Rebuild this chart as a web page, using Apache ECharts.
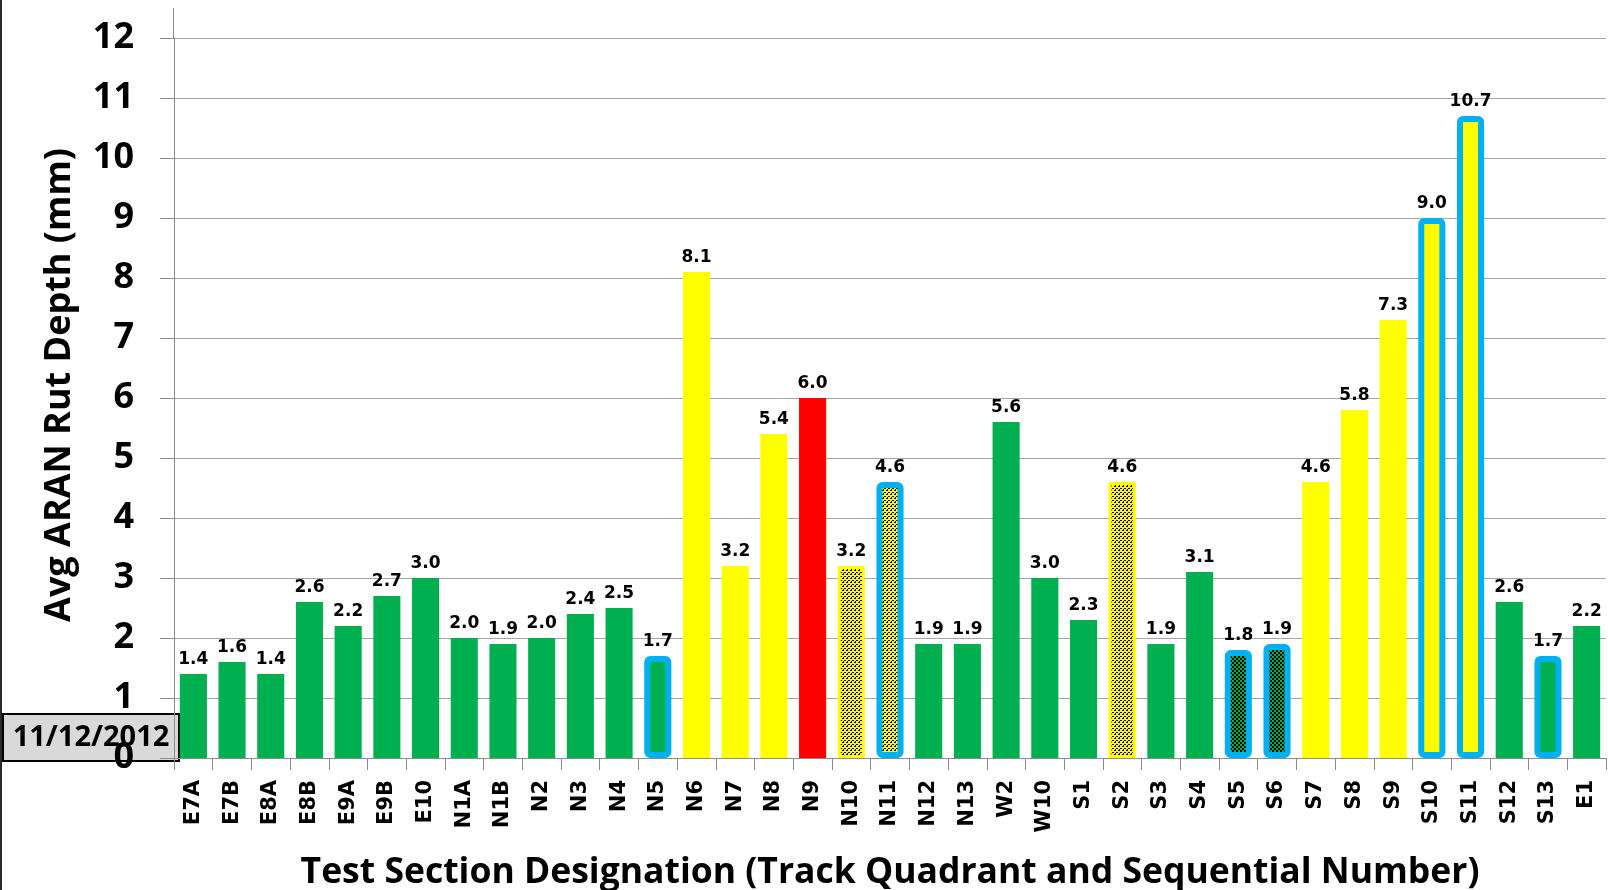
<!DOCTYPE html>
<html>
<head>
<meta charset="utf-8">
<script src="https://cdn.jsdelivr.net/npm/echarts@6/dist/echarts.min.js"></script>
<style>
html,body{margin:0;padding:0;background:#fff;}
#chart{width:1608px;height:890px;}
</style>
</head>
<body>
<div id="chart"></div>
<script>
var categories = ['E7A','E7B','E8A','E8B','E9A','E9B','E10','N1A','N1B','N2','N3','N4','N5','N6','N7','N8','N9','N10','N11','N12','N13','W2','W10','S1','S2','S3','S4','S5','S6','S7','S8','S9','S10','S11','S12','S13','E1'];
var rutDepth = [1.4,1.6,1.4,2.6,2.2,2.7,3.0,2.0,1.9,2.0,2.4,2.5,1.7,8.1,3.2,5.4,6.0,3.2,4.6,1.9,1.9,5.6,3.0,2.3,4.6,1.9,3.1,1.8,1.9,4.6,5.8,7.3,9.0,10.7,2.6,1.7,2.2];
// fill kind: g = green, y = yellow, r = red, dy = dotted yellow, dg = dotted green
var fillKind = ['g','g','g','g','g','g','g','g','g','g','g','g','g','y','y','y','r','dy','dy','g','g','g','g','g','dy','g','g','dg','dg','y','y','y','y','y','g','g','g'];
// outline kind: n = none, b = blue, y = yellow
var outlineKind = ['n','n','n','n','n','n','n','n','n','n','n','n','b','n','n','n','n','y','b','n','n','n','n','n','y','n','n','b','b','n','n','n','b','b','n','b','n'];
var yTicks = [0,1,2,3,4,5,6,7,8,9,10,11,12];
var yTitle = 'Avg ARAN Rut Depth (mm)';
var xTitle = 'Test Section Designation (Track Quadrant and Sequential Number)';
var dateText = '11/12/2012';

function makeYellowPattern() {
  var c = document.createElement('canvas');
  c.width = 4; c.height = 4;
  var ctx = c.getContext('2d');
  ctx.fillStyle = '#FFFF00'; ctx.fillRect(0,0,4,4);
  ctx.fillStyle = '#000000';
  ctx.fillRect(0,0,2,1); ctx.fillRect(2,2,2,1); ctx.fillRect(3,1,1,1);
  return c;
}
function makeGreenPattern() {
  var c = document.createElement('canvas');
  c.width = 4; c.height = 4;
  var ctx = c.getContext('2d');
  ctx.fillStyle = '#000000'; ctx.fillRect(0,0,4,4);
  ctx.fillStyle = '#00B050';
  ctx.fillRect(0,0,2,2); ctx.fillRect(2,2,2,2);
  return c;
}
var patY = makeYellowPattern();
var patG = makeGreenPattern();

var fills = {
  g: '#00B050', y: '#FFFF00', r: '#FF0000',
  dy: {image: patY, repeat: 'repeat'},
  dg: {image: patG, repeat: 'repeat'}
};
var outlines = {n: null, b: '#00B0F0', y: '#FFFF00'};

var data = rutDepth.map(function(v, i) {
  var st = {color: fills[fillKind[i]]};
  var o = outlines[outlineKind[i]];
  if (o) {
    st.borderColor = o;
    st.borderWidth = outlineKind[i] === 'b' ? 6 : 3;
    st.borderJoin = 'round';
    st.borderRadius = outlineKind[i] === 'b' ? 3 : 0;
  }
  return {value: v, itemStyle: st};
});

var chart = echarts.init(document.getElementById('chart'), null, {renderer: 'canvas'});
chart.setOption({
  animation: false,
  backgroundColor: '#ffffff',
  grid: {left: 174, right: 2, top: 38, bottom: 132, containLabel: false, outerBoundsMode: 'none'},
  xAxis: {
    type: 'category',
    data: categories,
    name: xTitle,
    nameLocation: 'middle',
    nameGap: 97,
    nameTextStyle: {fontFamily: 'Open Sans', fontWeight: 'bold', fontSize: 35.5, color: '#000'},
    axisLine: {lineStyle: {color: '#8c8c8c', width: 1}},
    axisTick: {show: true, length: 12, lineStyle: {color: '#8c8c8c'}},
    axisLabel: {
      rotate: 90, margin: 22, interval: 0,
      fontFamily: 'DejaVu Sans', fontWeight: 'bold', fontSize: 21, color: '#000'
    }
  },
  yAxis: {
    type: 'value',
    min: 0, max: 12, interval: 1,
    axisLine: {show: true, lineStyle: {color: '#8c8c8c', width: 1}},
    axisTick: {show: true, inside: false, length: 14, lineStyle: {color: '#8c8c8c'}},
    splitLine: {show: true, lineStyle: {color: '#a6a6a6', width: 1}},
    axisLabel: {
      margin: 40,
      fontFamily: 'Open Sans', fontWeight: 'bold', fontSize: 36, color: '#000',
      formatter: function(v) { return yTicks.indexOf(v) >= 0 ? String(v) : ''; }
    }
  },
  graphic: [
    {type: 'line', shape: {x1: 173.5, y1: 8, x2: 173.5, y2: 38}, style: {stroke: '#8c8c8c', lineWidth: 1}, z: 1},
    {type: 'rect', shape: {x: 0, y: 0, width: 2, height: 890}, style: {fill: '#2a2a2a'}, z: 1},
    {
      type: 'text', x: 60, y: 385, rotation: Math.PI / 2, z: 5,
      style: {text: yTitle, fill: '#000', font: 'bold 36px "Open Sans"', textAlign: 'center', textVerticalAlign: 'middle'}
    },
    {
      type: 'group', z: 0, zlevel: 0, left: 2, top: 713,
      children: [
        {type: 'rect', shape: {x: 0, y: 0, width: 176, height: 47}, style: {fill: '#D9D9D9', stroke: '#000', lineWidth: 2}, z: 0},
        {type: 'text', x: 88, y: 24, style: {text: dateText, fill: '#000', font: 'bold 29px "Open Sans"', textAlign: 'center', textVerticalAlign: 'middle'}, z: 0}
      ]
    }
  ],
  series: [{
    type: 'bar',
    data: data,
    barCategoryGap: '30%',
    z: 3,
    label: {
      show: true, position: 'top', distance: 6,
      fontFamily: 'DejaVu Sans', fontWeight: 'bold', fontSize: 17, color: '#000',
      formatter: function(p) { return Number(p.value).toFixed(1); }
    }
  }]
});
</script>
</body>
</html>
